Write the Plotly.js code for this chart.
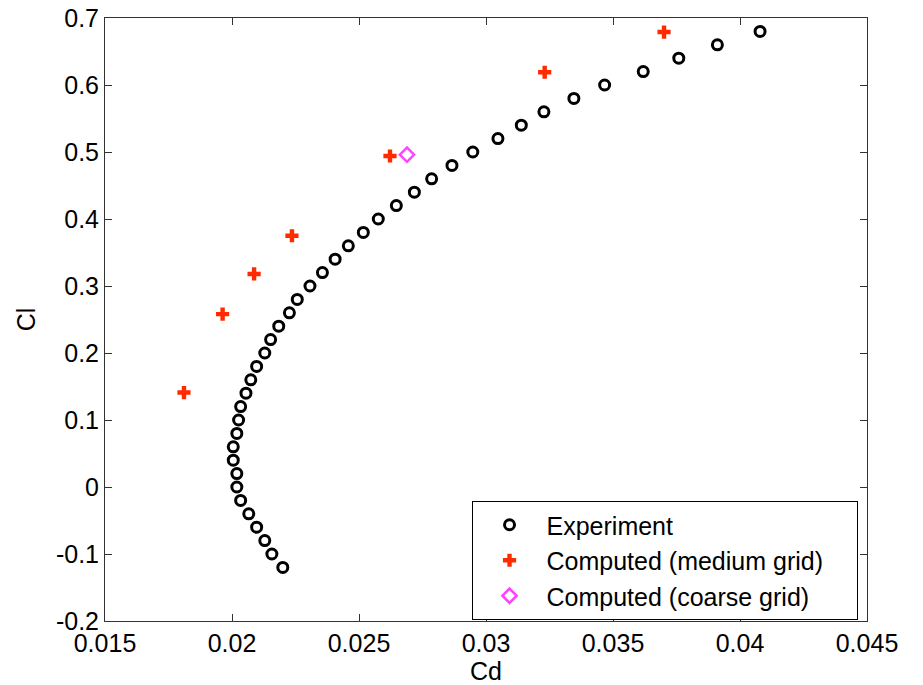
<!DOCTYPE html>
<html>
<head>
<meta charset="utf-8">
<script src="https://cdn.plot.ly/plotly-3.0.1.min.js"></script>
<style>html,body{margin:0;padding:0;background:#fff;}#chart{width:923px;height:685px;}</style>
</head>
<body>
<div id="chart"></div>
<script>
// Experiment
const expCd = [0.02200,0.02157,0.02129,0.02097,0.02066,0.02034,0.02019,0.02019,0.02005,0.02005,
               0.02019,0.02026,0.02034,0.02055,0.02074,0.02097,0.02129,0.02152,0.02184,0.02226,
               0.02257,0.02307,0.02356,0.02406,0.02458,0.02517,0.02576,0.02647,0.02718,0.02786,
               0.02866,0.02948,0.03047,0.03139,0.03228,0.03346,0.03467,0.03619,0.03759,0.03911,0.04079];
const expCl = [-0.12,-0.10,-0.08,-0.06,-0.04,-0.02,0.00,0.02,0.04,0.06,
               0.08,0.10,0.12,0.14,0.16,0.18,0.20,0.22,0.24,0.26,
               0.28,0.30,0.32,0.34,0.36,0.38,0.40,0.42,0.44,0.46,
               0.48,0.50,0.52,0.54,0.56,0.58,0.60,0.62,0.64,0.66,0.68];
// Computed (medium grid)
const medCd = [0.01811,0.01963,0.02087,0.02236,0.02622,0.03231,0.03701];
const medCl = [0.141,0.258,0.318,0.375,0.494,0.619,0.679];
// Computed (coarse grid)
const coarseCd = [0.02689];
const coarseCl = [0.496];

const seriesNames = ['Experiment', 'Computed (medium grid)', 'Computed (coarse grid)'];

const xTicks = [0.015,0.02,0.025,0.03,0.035,0.04,0.045];
const xTickText = ['0.015','0.02','0.025','0.03','0.035','0.04','0.045'];
const yTicks = [-0.2,-0.1,0,0.1,0.2,0.3,0.4,0.5,0.6,0.7];
const yTickText = ['-0.2','-0.1','0','0.1','0.2','0.3','0.4','0.5','0.6','0.7'];

const font = {family: 'Liberation Sans, Arial, sans-serif', size: 25, color: '#000'};
const pad = '\u00a0\u00a0\u00a0\u00a0';

const traces = [
  {x: expCd, y: expCl, mode: 'markers', type: 'scatter', name: seriesNames[0],
   marker: {symbol: 'circle-open', size: 10, color: '#000', line: {width: 3, color: '#000'}}},
  {x: medCd, y: medCl, mode: 'markers', type: 'scatter', name: seriesNames[1] + pad,
   marker: {symbol: 'cross', size: 11, color: '#ff2a00', line: {width: 0}}},
  {x: coarseCd, y: coarseCl, mode: 'markers', type: 'scatter', name: seriesNames[2],
   marker: {symbol: 'diamond-open', size: 11, color: '#ff44ff', line: {width: 2.5, color: '#ff44ff'}}}
];

const axisCommon = {
  showgrid: false, zeroline: false, showline: true, linecolor: '#333', linewidth: 1,
  mirror: 'ticks', ticks: 'inside', ticklen: 7, tickwidth: 1, tickcolor: '#333',
  tickfont: font, tickmode: 'array', automargin: false
};

const layout = {
  width: 923, height: 685,
  margin: {l: 105, r: 56, t: 18, b: 64},
  paper_bgcolor: '#fff', plot_bgcolor: '#fff',
  font: font,
  showlegend: true,
  xaxis: Object.assign({}, axisCommon, {
    range: [0.015, 0.045], tickvals: xTicks, ticktext: xTickText,
    title: {text: 'Cd', font: font, standoff: 0}
  }),
  yaxis: Object.assign({}, axisCommon, {
    range: [-0.2, 0.7], tickvals: yTicks, ticktext: yTickText,
    title: {text: 'Cl', font: font, standoff: 13}
  }),
  legend: {
    x: 0.481, y: 0.199, xanchor: 'left', yanchor: 'top',
    bgcolor: '#fff', bordercolor: '#000', borderwidth: 1,
    font: font, itemwidth: 64, tracegroupgap: 0
  }
};

Plotly.newPlot('chart', traces, layout, {displayModeBar: false, staticPlot: true});
</script>
</body>
</html>
